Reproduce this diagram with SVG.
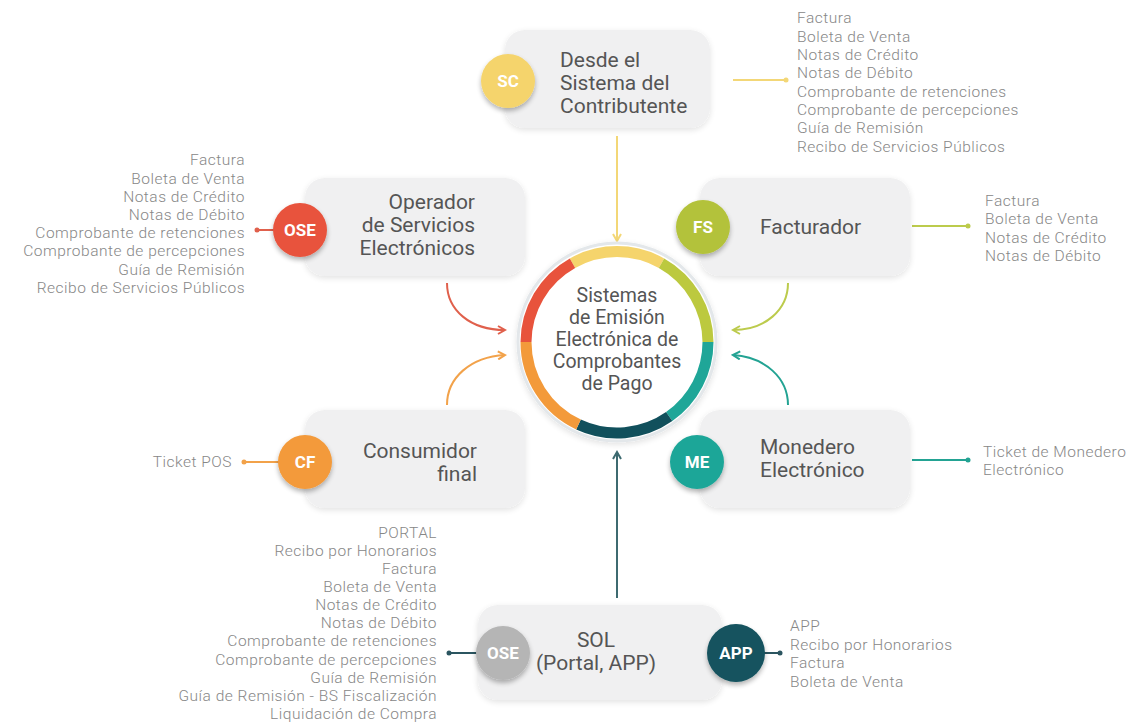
<svg xmlns="http://www.w3.org/2000/svg" width="1133" height="722" viewBox="0 0 1133 722">
  <defs>
    <style>
      .box { fill: #f0f0f1; }
      .lbl { font-family: Roboto, "Liberation Sans", sans-serif; font-size: 21px; fill: #555; }
      .hubt { font-family: Roboto, "Liberation Sans", sans-serif; font-size: 19.5px; fill: #555; text-anchor: middle; }
      .badge { font-family: Roboto, "Liberation Sans", sans-serif; font-size: 17px; font-weight: bold; fill: #fff; text-anchor: middle; }
      .list { font-family: Roboto, "Liberation Sans", sans-serif; font-weight: 300; font-size: 15.5px; letter-spacing: 0.5px; fill: #878787; }
      .r { text-anchor: end; }
      .c { text-anchor: middle; }
      .link { fill: none; stroke-width: 2; }
    </style>
    <filter id="soft" x="-20%" y="-20%" width="140%" height="140%">
      <feGaussianBlur in="SourceAlpha" stdDeviation="3"/>
      <feOffset dx="0" dy="2"/>
      <feComponentTransfer><feFuncA type="linear" slope="0.12"/></feComponentTransfer>
      <feMerge><feMergeNode/><feMergeNode in="SourceGraphic"/></feMerge>
    </filter>
    <filter id="shadow" x="-30%" y="-30%" width="160%" height="160%">
      <feGaussianBlur in="SourceAlpha" stdDeviation="2.5"/>
      <feOffset dx="0" dy="3"/>
      <feComponentTransfer><feFuncA type="linear" slope="0.3"/></feComponentTransfer>
      <feMerge><feMergeNode/><feMergeNode in="SourceGraphic"/></feMerge>
    </filter>
    <marker id="ahY" viewBox="0 0 10 10" refX="8" refY="5" markerWidth="5" markerHeight="5" orient="auto"><path d="M1,1 L8,5 L1,9" fill="none" stroke="#f3d777" stroke-width="2"/></marker>
    <marker id="ahR" viewBox="0 0 10 10" refX="8" refY="5" markerWidth="5" markerHeight="5" orient="auto"><path d="M1,1 L8,5 L1,9" fill="none" stroke="#e0604c" stroke-width="2"/></marker>
    <marker id="ahO" viewBox="0 0 10 10" refX="8" refY="5" markerWidth="5" markerHeight="5" orient="auto"><path d="M1,1 L8,5 L1,9" fill="none" stroke="#f2a24a" stroke-width="2"/></marker>
    <marker id="ahG" viewBox="0 0 10 10" refX="8" refY="5" markerWidth="5" markerHeight="5" orient="auto"><path d="M1,1 L8,5 L1,9" fill="none" stroke="#bccb4c" stroke-width="2"/></marker>
    <marker id="ahT" viewBox="0 0 10 10" refX="8" refY="5" markerWidth="5" markerHeight="5" orient="auto"><path d="M1,1 L8,5 L1,9" fill="none" stroke="#23a393" stroke-width="2"/></marker>
    <marker id="ahD" viewBox="0 0 10 10" refX="8" refY="5" markerWidth="5" markerHeight="5" orient="auto"><path d="M1,1 L8,5 L1,9" fill="none" stroke="#3d6a70" stroke-width="2"/></marker>
  </defs>
  <rect width="1133" height="722" fill="#ffffff"/>

  <!-- connectors -->
  <g id="connectors">
    <!-- feeds into the central hub -->
    <line class="link" x1="617" y1="136" x2="617" y2="241" stroke="#f3d777" marker-end="url(#ahY)"/>
    <path class="link" d="M447,283 C447,310 470,330 505,330" stroke="#e0604c" marker-end="url(#ahR)"/>
    <path class="link" d="M447,405 C447,378 470,357 505,355" stroke="#f2a24a" marker-end="url(#ahO)"/>
    <path class="link" d="M788,283 C788,310 765,330 733,330" stroke="#bccb4c" marker-end="url(#ahG)"/>
    <path class="link" d="M788,405 C788,378 765,357 733,355" stroke="#23a393" marker-end="url(#ahT)"/>
    <line class="link" x1="617" y1="598" x2="617" y2="452" stroke="#3d6a70" marker-end="url(#ahD)"/>
    <!-- leaders to the document lists -->
    <line class="link" x1="733" y1="80" x2="785" y2="80" stroke="#f3d777"/>
    <circle cx="786" cy="80" r="2.5" fill="#f3d777"/>
    <line class="link" x1="258" y1="230" x2="285" y2="230" stroke="#e0604c"/>
    <circle cx="257" cy="230" r="2.5" fill="#e0604c"/>
    <line class="link" x1="912" y1="226" x2="967" y2="226" stroke="#bccb4c"/>
    <circle cx="968" cy="226" r="2.5" fill="#bccb4c"/>
    <line class="link" x1="245" y1="462" x2="290" y2="462" stroke="#f2a24a"/>
    <circle cx="244" cy="462" r="2.5" fill="#f2a24a"/>
    <line class="link" x1="912" y1="460" x2="967" y2="460" stroke="#23a393"/>
    <circle cx="968" cy="460" r="2.5" fill="#23a393"/>
    <line class="link" x1="450" y1="653" x2="480" y2="653" stroke="#2b5560"/>
    <circle cx="449" cy="653" r="2.5" fill="#2b5560"/>
    <line class="link" x1="760" y1="653" x2="779" y2="653" stroke="#2b5560"/>
    <circle cx="780" cy="653" r="2.5" fill="#2b5560"/>
  </g>

  <!-- central hub -->
  <g id="hub">
    <circle cx="617" cy="342" r="99" fill="#ffffff" stroke="#e3e7ea" stroke-width="3" filter="url(#soft)"/>
    <g fill="none" stroke-width="11">
      <path d="M572.5,263.2 A91,91 0 0 1 661.5,263.2" stroke="#f5d46c"/>
      <path d="M661.5,263.2 A91,91 0 0 1 708,342" stroke="#bcc93f"/>
      <path d="M708,342 A91,91 0 0 1 669.2,416.5" stroke="#1fa698"/>
      <path d="M669.2,416.5 A91,91 0 0 1 578.5,424.5" stroke="#11505c"/>
      <path d="M578.5,424.5 A91,91 0 0 1 526,342" stroke="#f39a3a"/>
      <path d="M526,342 A91,91 0 0 1 572.5,263.2" stroke="#e8533c"/>
    </g>
    <text class="hubt" x="617" y="302">Sistemas</text>
    <text class="hubt" x="617" y="324">de Emisión</text>
    <text class="hubt" x="617" y="346">Electrónica de</text>
    <text class="hubt" x="617" y="368">Comprobantes</text>
    <text class="hubt" x="617" y="390">de Pago</text>
  </g>

  <!-- SC: Desde el Sistema del Contribuyente -->
  <g id="node-sc">
    <rect class="box" x="505" y="30" width="205" height="98" rx="20" filter="url(#soft)"/>
    <circle cx="508" cy="81" r="27" fill="#f5d46c" filter="url(#shadow)"/>
    <text class="badge" x="508" y="87">SC</text>
    <text class="lbl" x="560" y="67">Desde el</text>
    <text class="lbl" x="560" y="90">Sistema del</text>
    <text class="lbl" x="560" y="113">Contributente</text>
    <g class="list">
      <text x="797" y="23">Factura</text>
      <text x="797" y="42">Boleta de Venta</text>
      <text x="797" y="60">Notas de Crédito</text>
      <text x="797" y="78">Notas de Débito</text>
      <text x="797" y="97">Comprobante de retenciones</text>
      <text x="797" y="115">Comprobante de percepciones</text>
      <text x="797" y="133">Guía de Remisión</text>
      <text x="797" y="152">Recibo de Servicios Públicos</text>
    </g>
  </g>

  <!-- OSE: Operador de Servicios Electrónicos -->
  <g id="node-ose">
    <rect class="box" x="305" y="178" width="220" height="98" rx="20" filter="url(#soft)"/>
    <circle cx="300" cy="230" r="27" fill="#e8533c" filter="url(#shadow)"/>
    <text class="badge" x="300" y="236">OSE</text>
    <text class="lbl r" x="475" y="209">Operador</text>
    <text class="lbl r" x="475" y="232">de Servicios</text>
    <text class="lbl r" x="475" y="255">Electrónicos</text>
    <g class="list r">
      <text x="245" y="165">Factura</text>
      <text x="245" y="184">Boleta de Venta</text>
      <text x="245" y="202">Notas de Crédito</text>
      <text x="245" y="220">Notas de Débito</text>
      <text x="245" y="238">Comprobante de retenciones</text>
      <text x="245" y="256">Comprobante de percepciones</text>
      <text x="245" y="275">Guía de Remisión</text>
      <text x="245" y="293">Recibo de Servicios Públicos</text>
    </g>
  </g>

  <!-- FS: Facturador -->
  <g id="node-fs">
    <rect class="box" x="700" y="178" width="210" height="98" rx="20" filter="url(#soft)"/>
    <circle cx="703" cy="227" r="27" fill="#b3c23a" filter="url(#shadow)"/>
    <text class="badge" x="703" y="233">FS</text>
    <text class="lbl" x="760" y="234">Facturador</text>
    <g class="list">
      <text x="985" y="206">Factura</text>
      <text x="985" y="224">Boleta de Venta</text>
      <text x="985" y="243">Notas de Crédito</text>
      <text x="985" y="261">Notas de Débito</text>
    </g>
  </g>

  <!-- CF: Consumidor final -->
  <g id="node-cf">
    <rect class="box" x="305" y="410" width="220" height="98" rx="20" filter="url(#soft)"/>
    <circle cx="305" cy="462" r="27" fill="#f39a3a" filter="url(#shadow)"/>
    <text class="badge" x="305" y="468">CF</text>
    <text class="lbl r" x="477" y="458">Consumidor</text>
    <text class="lbl r" x="477" y="481">final</text>
    <text class="list r" x="232" y="467">Ticket POS</text>
  </g>

  <!-- ME: Monedero Electrónico -->
  <g id="node-me">
    <rect class="box" x="700" y="410" width="210" height="98" rx="20" filter="url(#soft)"/>
    <circle cx="697" cy="462" r="27" fill="#1fa698" filter="url(#shadow)"/>
    <text class="badge" x="697" y="468">ME</text>
    <text class="lbl" x="760" y="454">Monedero</text>
    <text class="lbl" x="760" y="477">Electrónico</text>
    <g class="list">
      <text x="983" y="457">Ticket de Monedero</text>
      <text x="983" y="475">Electrónico</text>
    </g>
  </g>

  <!-- SOL: Portal and APP -->
  <g id="node-sol">
    <rect class="box" x="478" y="605" width="244" height="95" rx="20" filter="url(#soft)"/>
    <circle cx="503" cy="653" r="27" fill="#b5b5b5" filter="url(#shadow)"/>
    <text class="badge" x="503" y="659">OSE</text>
    <circle cx="736" cy="653" r="29" fill="#14525e" filter="url(#shadow)"/>
    <text class="badge" x="736" y="659">APP</text>
    <text class="lbl c" x="596" y="647">SOL</text>
    <text class="lbl c" x="596" y="670">(Portal, APP)</text>
    <g class="list r">
      <text x="437" y="538">PORTAL</text>
      <text x="437" y="556">Recibo por Honorarios</text>
      <text x="437" y="574">Factura</text>
      <text x="437" y="592">Boleta de Venta</text>
      <text x="437" y="610">Notas de Crédito</text>
      <text x="437" y="628">Notas de Débito</text>
      <text x="437" y="646">Comprobante de retenciones</text>
      <text x="437" y="665">Comprobante de percepciones</text>
      <text x="437" y="683">Guía de Remisión</text>
      <text x="437" y="701">Guía de Remisión - BS Fiscalización</text>
      <text x="437" y="719">Liquidación de Compra</text>
    </g>
    <g class="list">
      <text x="790" y="631">APP</text>
      <text x="790" y="650">Recibo por Honorarios</text>
      <text x="790" y="668">Factura</text>
      <text x="790" y="687">Boleta de Venta</text>
    </g>
  </g>
</svg>
